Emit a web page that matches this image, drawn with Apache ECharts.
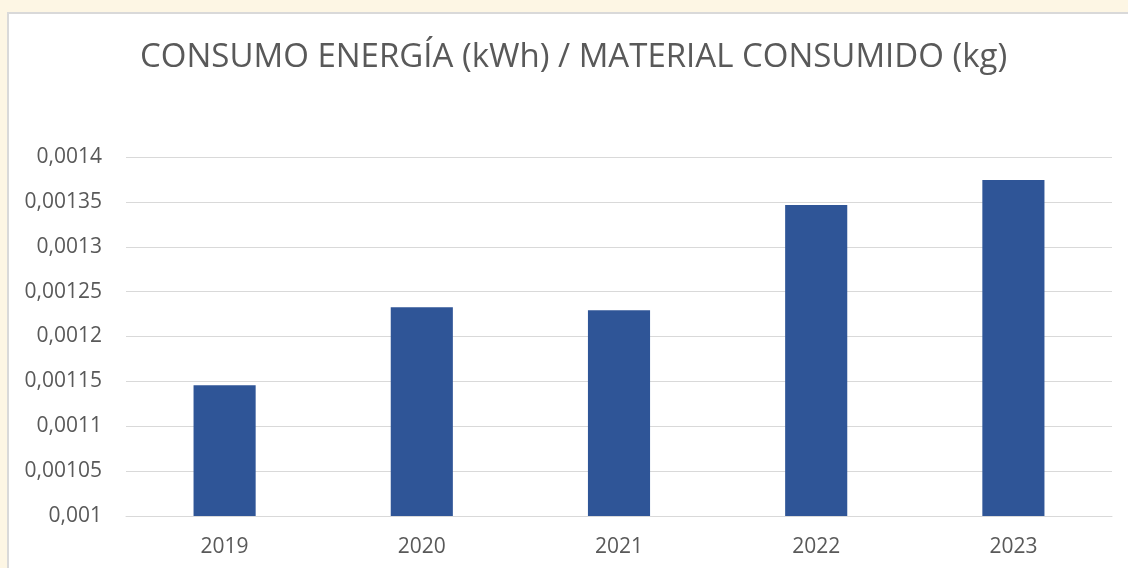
<!DOCTYPE html>
<html>
<head>
<meta charset="utf-8">
<script src="https://cdn.jsdelivr.net/npm/echarts@6/dist/echarts.min.js"></script>
<style>
html,body{margin:0;padding:0;background:#fdf6e4;}
#chart{width:1128px;height:568px;}
</style>
</head>
<body>
<div id="chart"></div>
<script>
var titleText = 'CONSUMO ENERGÍA (kWh) / MATERIAL CONSUMIDO (kg)';
var categories = ['2019', '2020', '2021', '2022', '2023'];
var values = [0.0011456, 0.0012325, 0.0012292, 0.0013465, 0.0013744];
var yMin = 0.001, yMax = 0.0014, yStep = 0.00005;

var chart = echarts.init(document.getElementById('chart'), null, {renderer: 'canvas'});
chart.setOption({
  backgroundColor: '#fdf6e4',
  animation: false,
  graphic: [{
    type: 'rect', z: -10, left: 7, top: 12,
    shape: {width: 1135, height: 570},
    style: {fill: '#ffffff', stroke: '#d9d9d9', lineWidth: 2}
  }],
  title: {
    text: titleText, left: 135, top: 36,
    textStyle: {fontFamily: 'Open Sans', fontWeight: 'normal', fontSize: 33, color: '#595959'}
  },
  grid: {left: 126, right: 16, top: 157, bottom: 52},
  xAxis: {
    type: 'category', data: categories,
    axisLine: {show: true, lineStyle: {color: '#d9d9d9', width: 1}},
    axisTick: {show: false},
    axisLabel: {color: '#595959', fontSize: 21, fontFamily: 'Open Sans', margin: 21}
  },
  yAxis: {
    type: 'value', min: yMin, max: yMax, interval: yStep,
    axisLine: {show: false}, axisTick: {show: false},
    splitLine: {lineStyle: {color: '#d9d9d9', width: 1}},
    axisLabel: {
      color: '#595959', fontSize: 21, fontFamily: 'Open Sans', margin: 24,
      formatter: function (v) { return parseFloat(v.toFixed(6)).toString().replace('.', ','); }
    }
  },
  series: [{
    type: 'bar', data: values, barWidth: '31.5%',
    itemStyle: {color: '#2f5597'}
  }]
});
</script>
</body>
</html>
